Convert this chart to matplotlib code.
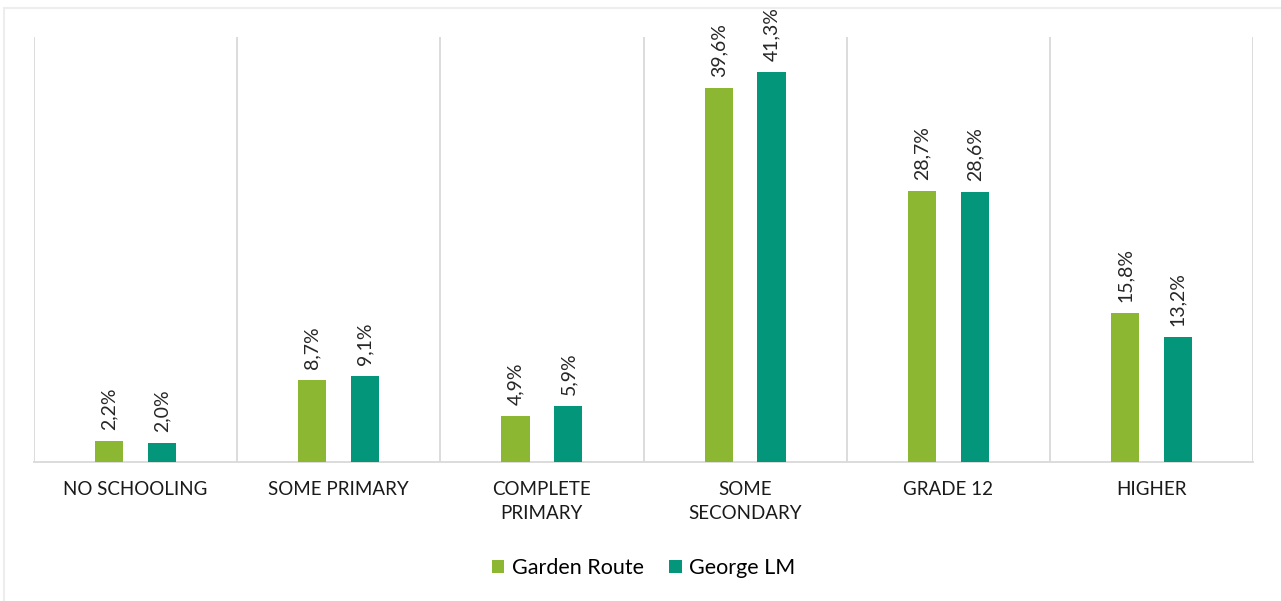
import matplotlib
matplotlib.use("Agg")
import matplotlib.pyplot as plt
from matplotlib.patches import Rectangle
import numpy as np

categories = ["NO SCHOOLING", "SOME PRIMARY", "COMPLETE\nPRIMARY",
              "SOME\nSECONDARY", "GRADE 12", "HIGHER"]
garden_route = [2.2, 8.7, 4.9, 39.6, 28.7, 15.8]
george_lm = [2.0, 9.1, 5.9, 41.3, 28.6, 13.2]
series_names = ["Garden Route", "George LM"]

GREEN_LIGHT = "#8CB733"
GREEN_DARK = "#03967A"
GRID = "#D9D9D9"
FONT = "Lato"

W, H = 1281, 601
fig = plt.figure(figsize=(W / 100, H / 100), dpi=100)

# faint frame around the chart area
fig.add_artist(Rectangle((4 / W, -0.05), 1.2, 1 - 8 / H + 0.05,
                         transform=fig.transFigure, fill=False,
                         edgecolor="#EDEDED", linewidth=1.5))

ax = fig.add_axes([34 / W, (H - 462) / H, (1253 - 34) / W, (462 - 37) / H])

x = np.arange(len(categories))
offset, width = 0.13, 0.138
bars1 = ax.bar(x - offset, garden_route, width, color=GREEN_LIGHT,
               label=series_names[0], zorder=3)
bars2 = ax.bar(x + offset, george_lm, width, color=GREEN_DARK,
               label=series_names[1], zorder=3)

for bars, vals in ((bars1, garden_route), (bars2, george_lm)):
    for b, v in zip(bars, vals):
        ax.annotate(f"{v:.1f}%".replace(".", ","),
                    (b.get_x() + b.get_width() / 2, v),
                    xytext=(0, 8), textcoords="offset points",
                    rotation=90, ha="center", va="bottom",
                    fontsize=14, family=FONT, color="#262626")

ax.set_xlim(-0.5, len(categories) - 0.5)
ax.set_ylim(0, 45)
ax.set_yticks([])

# category separators
ax.set_xticks(np.arange(-0.5, len(categories)), minor=True)
ax.grid(which="minor", axis="x", color=GRID, linewidth=1.3, zorder=0)
ax.set_xticks(x)
ax.set_xticklabels(categories, family=FONT, fontsize=13.5, color="#1A1A1A",
                   linespacing=1.5)
ax.tick_params(which="both", length=0, pad=14)

for s in ("top", "left", "right"):
    ax.spines[s].set_visible(False)
ax.spines["bottom"].set_color(GRID)
ax.spines["bottom"].set_linewidth(1.3)

ax.legend(loc="center", bbox_to_anchor=(0.5, -0.25), ncol=2, frameon=False,
          prop={"family": FONT, "size": 15.5}, handlelength=0.6,
          handleheight=0.6, handletextpad=0.35, columnspacing=1.15)

fig.savefig("out.png", dpi=100)
